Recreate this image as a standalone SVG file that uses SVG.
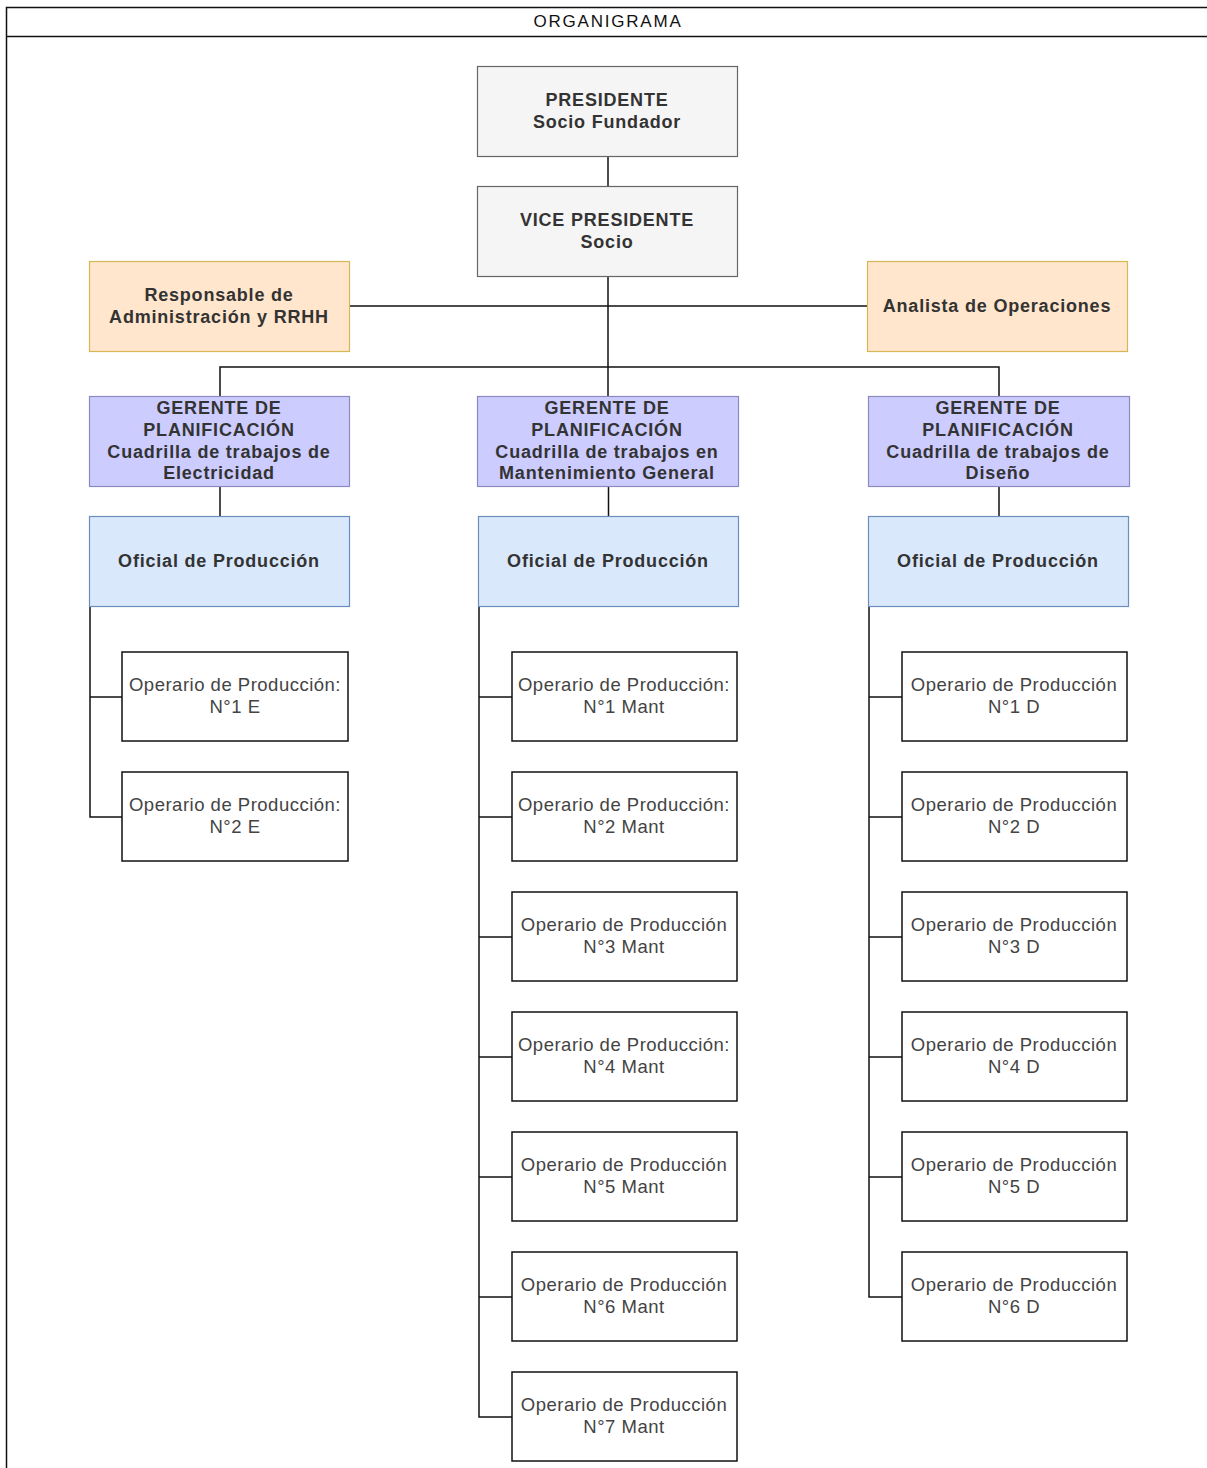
<svg xmlns="http://www.w3.org/2000/svg" width="1207" height="1468" viewBox="0 0 1207 1468">
<style>
text{font-family:"Liberation Sans",Arial,sans-serif;text-anchor:middle;fill:#333}
.b{font-weight:bold;font-size:18px;letter-spacing:0.8px}
.r{font-size:18.5px;fill:#444;letter-spacing:0.5px}
.t{font-size:17px;fill:#111;letter-spacing:1.8px}
.gray{fill:#f5f5f5;stroke:#666;stroke-width:1.2}
.org{fill:#ffe6cc;stroke:#d6b656;stroke-width:1.2}
.pur{fill:#ccccff;stroke:#8a8ac0;stroke-width:1.2}
.blu{fill:#dae8fc;stroke:#6c8ebf;stroke-width:1.2}
.op{fill:#fff;stroke:#111;stroke-width:1.5}
.c{fill:none;stroke:#111;stroke-width:1.5}
</style>
<rect width="1207" height="1468" fill="#fff"/>
<g id="frame">
<path d="M6.5,1468 V7.5 H1207" fill="none" stroke="#111" stroke-width="1.5"/>
<line x1="6.5" y1="36.5" x2="1207" y2="36.5" stroke="#111" stroke-width="1.5"/>
<text class="t" x="608" y="27">ORGANIGRAMA</text>
</g>
<g id="connectors">
<path class="c" d="M608,157 V186"/>
<path class="c" d="M608,277 V367"/>
<path class="c" d="M349,306 H867"/>
<path class="c" d="M220,396 V367 H999 V396"/>
<path class="c" d="M608,367 V396"/>
<path class="c" d="M220,487 V517"/>
<path class="c" d="M608.5,487 V516"/>
<path class="c" d="M999,487 V516"/>
<path class="c" d="M90,607 V817 H122 M90,697 H122"/>
<path class="c" d="M479,607 V1417 H512 M479,697 H512 M479,817 H512 M479,937 H512 M479,1057 H512 M479,1177 H512 M479,1297 H512"/>
<path class="c" d="M869,607 V1297 H902 M869,697 H902 M869,817 H902 M869,937 H902 M869,1057 H902 M869,1177 H902"/>
</g>
<g id="presidente"><rect class="gray" x="477.5" y="66.5" width="260" height="90"/><text class="b" x="607" y="106">PRESIDENTE</text><text class="b" x="607" y="128">Socio Fundador</text></g>
<g id="vicepresidente"><rect class="gray" x="477.5" y="186.5" width="260" height="90"/><text class="b" x="607" y="226">VICE PRESIDENTE</text><text class="b" x="607" y="248">Socio</text></g>
<g id="responsable"><rect class="org" x="89.5" y="261.5" width="260" height="90"/><text class="b" x="219" y="301">Responsable de</text><text class="b" x="219" y="323">Administración y RRHH</text></g>
<g id="analista"><rect class="org" x="867.5" y="261.5" width="260" height="90"/><text class="b" x="997" y="312">Analista de Operaciones</text></g>
<g id="gerente_e"><rect class="pur" x="89.5" y="396.5" width="260" height="90"/><text class="b" x="219" y="414">GERENTE DE</text><text class="b" x="219" y="436">PLANIFICACIÓN</text><text class="b" x="219" y="458">Cuadrilla de trabajos de</text><text class="b" x="219" y="479">Electricidad</text></g>
<g id="gerente_m"><rect class="pur" x="477.5" y="396.5" width="261" height="90"/><text class="b" x="607" y="414">GERENTE DE</text><text class="b" x="607" y="436">PLANIFICACIÓN</text><text class="b" x="607" y="458">Cuadrilla de trabajos en</text><text class="b" x="607" y="479">Mantenimiento General</text></g>
<g id="gerente_d"><rect class="pur" x="868.5" y="396.5" width="261" height="90"/><text class="b" x="998" y="414">GERENTE DE</text><text class="b" x="998" y="436">PLANIFICACIÓN</text><text class="b" x="998" y="458">Cuadrilla de trabajos de</text><text class="b" x="998" y="479">Diseño</text></g>
<g id="oficial_e"><rect class="blu" x="89.5" y="516.5" width="260" height="90"/><text class="b" x="219" y="567">Oficial de Producción</text></g>
<g id="oficial_m"><rect class="blu" x="478.5" y="516.5" width="260" height="90"/><text class="b" x="608" y="567">Oficial de Producción</text></g>
<g id="oficial_d"><rect class="blu" x="868.5" y="516.5" width="260" height="90"/><text class="b" x="998" y="567">Oficial de Producción</text></g>
<g id="op_e1"><rect class="op" x="122" y="652" width="226" height="89"/><text class="r" x="235" y="691">Operario de Producción:</text><text class="r" x="235" y="713">N°1 E</text></g>
<g id="op_e2"><rect class="op" x="122" y="772" width="226" height="89"/><text class="r" x="235" y="811">Operario de Producción:</text><text class="r" x="235" y="833">N°2 E</text></g>
<g id="op_m1"><rect class="op" x="512" y="652" width="225" height="89"/><text class="r" x="624" y="691">Operario de Producción:</text><text class="r" x="624" y="713">N°1 Mant</text></g>
<g id="op_m2"><rect class="op" x="512" y="772" width="225" height="89"/><text class="r" x="624" y="811">Operario de Producción:</text><text class="r" x="624" y="833">N°2 Mant</text></g>
<g id="op_m3"><rect class="op" x="512" y="892" width="225" height="89"/><text class="r" x="624" y="931">Operario de Producción</text><text class="r" x="624" y="953">N°3 Mant</text></g>
<g id="op_m4"><rect class="op" x="512" y="1012" width="225" height="89"/><text class="r" x="624" y="1051">Operario de Producción:</text><text class="r" x="624" y="1073">N°4 Mant</text></g>
<g id="op_m5"><rect class="op" x="512" y="1132" width="225" height="89"/><text class="r" x="624" y="1171">Operario de Producción</text><text class="r" x="624" y="1193">N°5 Mant</text></g>
<g id="op_m6"><rect class="op" x="512" y="1252" width="225" height="89"/><text class="r" x="624" y="1291">Operario de Producción</text><text class="r" x="624" y="1313">N°6 Mant</text></g>
<g id="op_m7"><rect class="op" x="512" y="1372" width="225" height="89"/><text class="r" x="624" y="1411">Operario de Producción</text><text class="r" x="624" y="1433">N°7 Mant</text></g>
<g id="op_d1"><rect class="op" x="902" y="652" width="225" height="89"/><text class="r" x="1014" y="691">Operario de Producción</text><text class="r" x="1014" y="713">N°1 D</text></g>
<g id="op_d2"><rect class="op" x="902" y="772" width="225" height="89"/><text class="r" x="1014" y="811">Operario de Producción</text><text class="r" x="1014" y="833">N°2 D</text></g>
<g id="op_d3"><rect class="op" x="902" y="892" width="225" height="89"/><text class="r" x="1014" y="931">Operario de Producción</text><text class="r" x="1014" y="953">N°3 D</text></g>
<g id="op_d4"><rect class="op" x="902" y="1012" width="225" height="89"/><text class="r" x="1014" y="1051">Operario de Producción</text><text class="r" x="1014" y="1073">N°4 D</text></g>
<g id="op_d5"><rect class="op" x="902" y="1132" width="225" height="89"/><text class="r" x="1014" y="1171">Operario de Producción</text><text class="r" x="1014" y="1193">N°5 D</text></g>
<g id="op_d6"><rect class="op" x="902" y="1252" width="225" height="89"/><text class="r" x="1014" y="1291">Operario de Producción</text><text class="r" x="1014" y="1313">N°6 D</text></g>
</svg>
